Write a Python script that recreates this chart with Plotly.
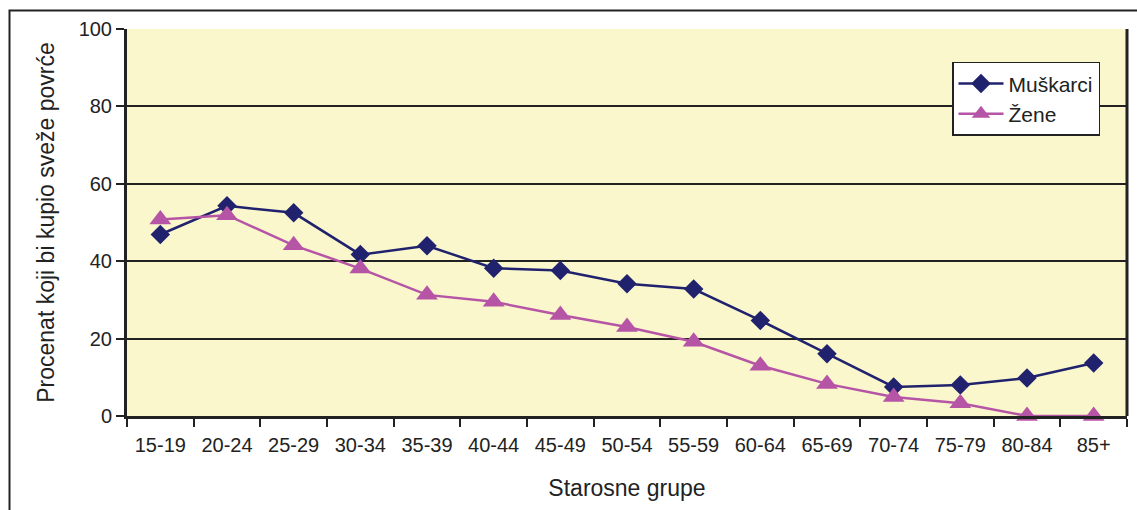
import plotly.graph_objects as go

age_groups = ["15-19", "20-24", "25-29", "30-34", "35-39", "40-44", "45-49",
              "50-54", "55-59", "60-64", "65-69", "70-74", "75-79", "80-84", "85+"]
muskarci = [46.9, 54.3, 52.5, 41.7, 44.0, 38.2, 37.6, 34.2, 32.8, 24.7, 16.1, 7.5, 8.0, 9.8, 13.7]
zene = [50.8, 51.9, 44.1, 38.1, 31.3, 29.5, 26.1, 23.0, 19.2, 13.0, 8.3, 4.9, 3.3, 0.0, 0.0]

NAVY = "#21226E"
PINK = "#B654A6"
INK = "#222222"
FONT = "Liberation Sans, Arial, sans-serif"

fig = go.Figure()
fig.add_trace(go.Scatter(
    x=age_groups, y=muskarci, name="Muškarci", mode="lines+markers",
    line=dict(color=NAVY, width=2.5),
    marker=dict(symbol="diamond", size=15, color=NAVY),
    cliponaxis=False,
))
fig.add_trace(go.Scatter(
    x=age_groups, y=zene, name="Žene", mode="lines+markers",
    line=dict(color=PINK, width=2.5),
    marker=dict(symbol="triangle-up", size=19, color=PINK),
    cliponaxis=False,
))

fig.update_layout(
    width=1137, height=510,
    margin=dict(l=127, r=10, t=29, b=94),
    paper_bgcolor="white",
    plot_bgcolor="#FAF7CD",
    font=dict(family=FONT, size=20, color=INK),
    showlegend=True,
    legend=dict(
        x=0.825, y=0.915, xanchor="left", yanchor="top",
        bgcolor="white", bordercolor=INK, borderwidth=1.5,
        font=dict(family=FONT, size=21, color=INK),
        itemwidth=45, tracegroupgap=0,
    ),
    xaxis=dict(
        type="category", tickson="boundaries", range=[-0.5, len(age_groups) - 0.5],
        ticks="outside", ticklen=8, tickwidth=2, tickcolor=INK,
        ticklabelstandoff=9,
        showline=True, linecolor=INK, linewidth=3, mirror=False,
        showgrid=False, zeroline=False,
        title=dict(text="Starosne grupe", font=dict(size=23), standoff=25),
        tickfont=dict(size=20),
    ),
    yaxis=dict(
        range=[0, 100], dtick=20,
        ticks="outside", ticklen=8, tickwidth=2, tickcolor=INK,
        showline=True, linecolor=INK, linewidth=3,
        showgrid=True, gridcolor=INK, gridwidth=1.5,
        zeroline=False,
        title=dict(text="Procenat koji bi kupio sveže povrće", font=dict(size=23), standoff=18),
        tickfont=dict(size=20),
    ),
)

# right border of the plotting area
fig.add_shape(type="line", xref="paper", yref="paper", x0=1, x1=1, y0=0, y1=1,
              line=dict(color=INK, width=3))
# outer chart frame
fig.add_shape(type="rect", xref="paper", yref="paper",
              x0=-0.1175, x1=1.03, y0=-0.35, y1=1.048,
              line=dict(color=INK, width=2), layer="below")

fig.write_html("out.html")
